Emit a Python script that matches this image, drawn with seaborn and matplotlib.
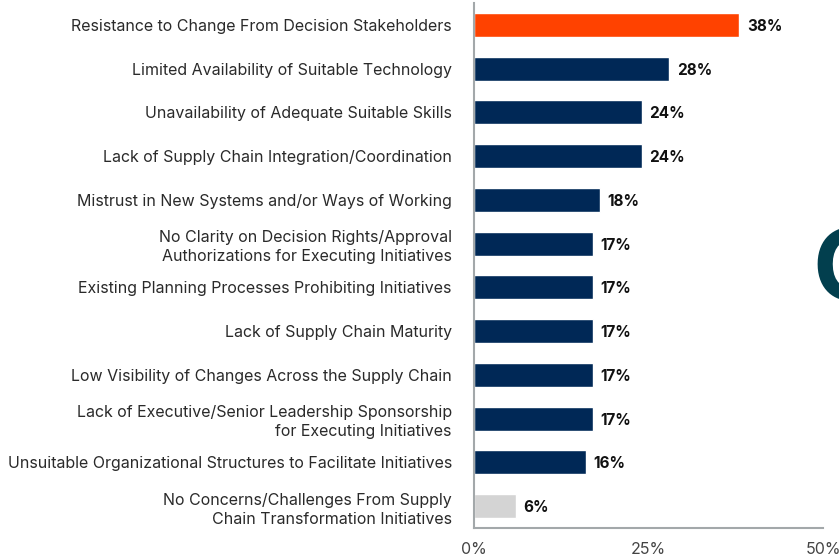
import matplotlib
matplotlib.use("Agg")
import matplotlib.pyplot as plt
import seaborn as sns
import pandas as pd

categories = [
    "Resistance to Change From Decision Stakeholders",
    "Limited Availability of Suitable Technology",
    "Unavailability of Adequate Suitable Skills",
    "Lack of Supply Chain Integration/Coordination",
    "Mistrust in New Systems and/or Ways of Working",
    "No Clarity on Decision Rights/Approval\nAuthorizations for Executing Initiatives",
    "Existing Planning Processes Prohibiting Initiatives",
    "Lack of Supply Chain Maturity",
    "Low Visibility of Changes Across the Supply Chain",
    "Lack of Executive/Senior Leadership Sponsorship\nfor Executing Initiatives",
    "Unsuitable Organizational Structures to Facilitate Initiatives",
    "No Concerns/Challenges From Supply\nChain Transformation Initiatives",
]
values = [38, 28, 24, 24, 18, 17, 17, 17, 17, 17, 16, 6]
groups = ["top"] + ["other"] * 10 + ["none"]

colors = {"top": "#ff4200", "other": "#002856", "none": "#d4d4d4"}

df = pd.DataFrame({"challenge": categories, "pct": values, "group": groups})

sns.set_style("white")
plt.rcParams["font.family"] = ["Inter", "DejaVu Sans"]

fig = plt.figure(figsize=(8.39, 5.59), dpi=100)
ax = fig.add_axes([0.565, 0.0555, 0.416, 0.939])

sns.barplot(data=df, x="pct", y="challenge", hue="group", palette=colors,
            dodge=False, width=0.55, saturation=1, legend=False, ax=ax)

for i, v in enumerate(values):
    ax.text(v + 1.1, i, f"{v}%", va="center_baseline", ha="left",
            fontsize=11, fontweight="bold", color="#111111")

ax.set_xlim(0, 50)
ax.set_ylim(11.5, -0.5)
ax.set_xticks([0, 25, 50])
ax.set_xticklabels(["0%", "25%", "50%"])
ax.set_xlabel("")
ax.set_ylabel("")
ax.tick_params(axis="y", length=0, pad=16, labelsize=11.5, labelcolor="#2a2a2a")
ax.tick_params(axis="x", length=0, pad=10, labelsize=11.5, labelcolor="#444444")
for lbl in ax.get_yticklabels():
    lbl.set_linespacing(1.35)

sns.despine(ax=ax)
for side in ["left", "bottom"]:
    ax.spines[side].set_color("#a3a8aa")
    ax.spines[side].set_linewidth(1.5)

# partially visible headline letter at the right edge
fig.text(812 / 839, 1 - 300 / 559, "C", fontsize=72, fontweight="bold",
         color="#023f4e", ha="left", va="baseline")

fig.savefig("out.png", dpi=100)
